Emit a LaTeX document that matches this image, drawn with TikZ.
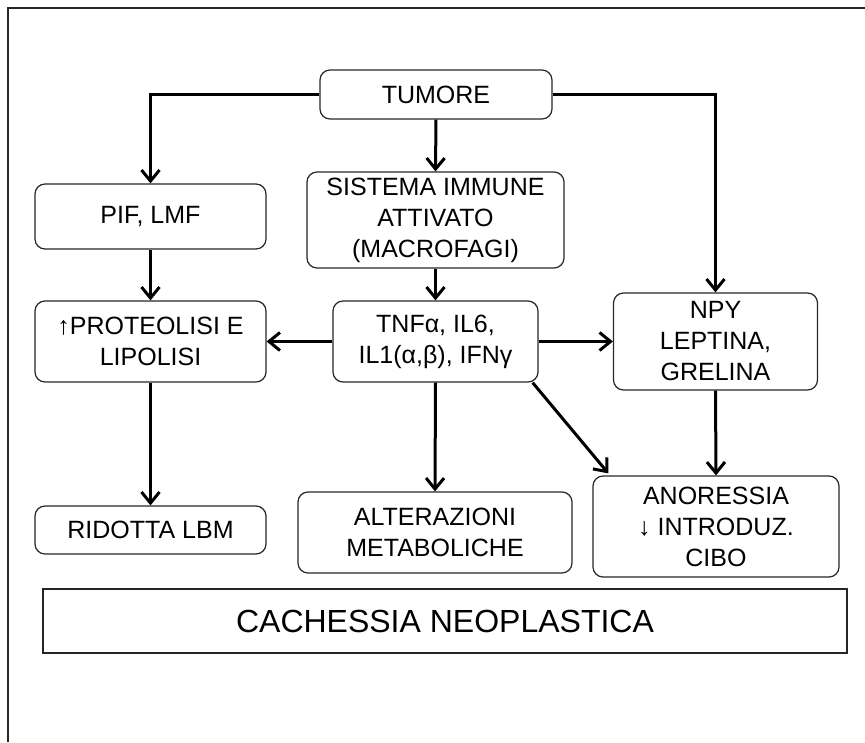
\documentclass[tikz,border=0pt]{standalone}
\usepackage{fontspec}
\setmainfont{Liberation Sans}
\usetikzlibrary{arrows.meta,calc}
\begin{document}
\begin{tikzpicture}[x=1pt,y=-1pt,
  box/.style={draw=black!85,line width=1.2pt,rounded corners=10pt,align=center,inner sep=0pt,
    font=\fontsize{25}{31}\selectfont},
  flat/.style={draw=black!85,line width=1.2pt,align=center,inner sep=0pt,
    font=\fontsize{32}{36}\selectfont},
  arr/.style={line width=3pt,-{Straight Barb[length=11pt,width=18pt,line width=3pt]}},
  frame/.style={draw=black!85,line width=1.6pt}]
\useasboundingbox (0,0) rectangle (865,742);
\coordinate (f1) at (865,8);
\coordinate (f2) at (8,8);
\coordinate (f3) at (8,742);
\draw[frame] (f1) -- (f2) -- (f3);
\node[box,minimum width=232pt,minimum height=49pt] (tum) at (436,94.5) {TUMORE};
\node[box,minimum width=231pt,minimum height=65pt] (pif) at (150.5,216.5) {PIF, LMF};
\node[box,minimum width=257pt,minimum height=96pt] (sis) at (435.5,220) {SISTEMA IMMUNE\\ATTIVATO\\(MACROFAGI)};
\node[box,minimum width=231pt,minimum height=81pt] (pro) at (150.5,341.5) {↑PROTEOLISI E\\LIPOLISI};
\node[box,minimum width=205pt,minimum height=81pt] (tnf) at (435.5,341.5) {TNFα, IL6,\\IL1(α,β), IFNγ};
\node[box,minimum width=204pt,minimum height=97pt] (npy) at (715.5,341.5) {NPY\\LEPTINA,\\GRELINA};
\node[box,minimum width=231pt,minimum height=48pt] (rid) at (150.5,530) {RIDOTTA LBM};
\node[box,minimum width=274pt,minimum height=81pt] (alt) at (435,532.5) {ALTERAZIONI\\METABOLICHE};
\node[box,minimum width=246pt,minimum height=101pt] (ano) at (716,526.5) {ANORESSIA\\↓ INTRODUZ.\\CIBO};
\node[flat,minimum width=804pt,minimum height=64pt] (cac) at (445,621) {CACHESSIA NEOPLASTICA};
\draw[arr] (tum.west) -| (pif.north);
\draw[arr] (tum.east) -| (npy.north);
\draw[arr] (tum.south) -- (sis.north);
\draw[arr] (pif.south) -- (pro.north);
\draw[arr] (sis.south) -- (tnf.north);
\draw[arr] (tnf.west) -- (pro.east);
\draw[arr] (tnf.east) -- (npy.west);
\draw[arr] (pro.south) -- (rid.north);
\draw[arr] (tnf.south) -- (alt.north);
\draw[arr] ($(tnf.south east)+(-6,0)$) -- ($(ano.north west)+(16,-2)$);
\draw[arr] (npy.south) -- (ano.north);
\end{tikzpicture}
\end{document}
